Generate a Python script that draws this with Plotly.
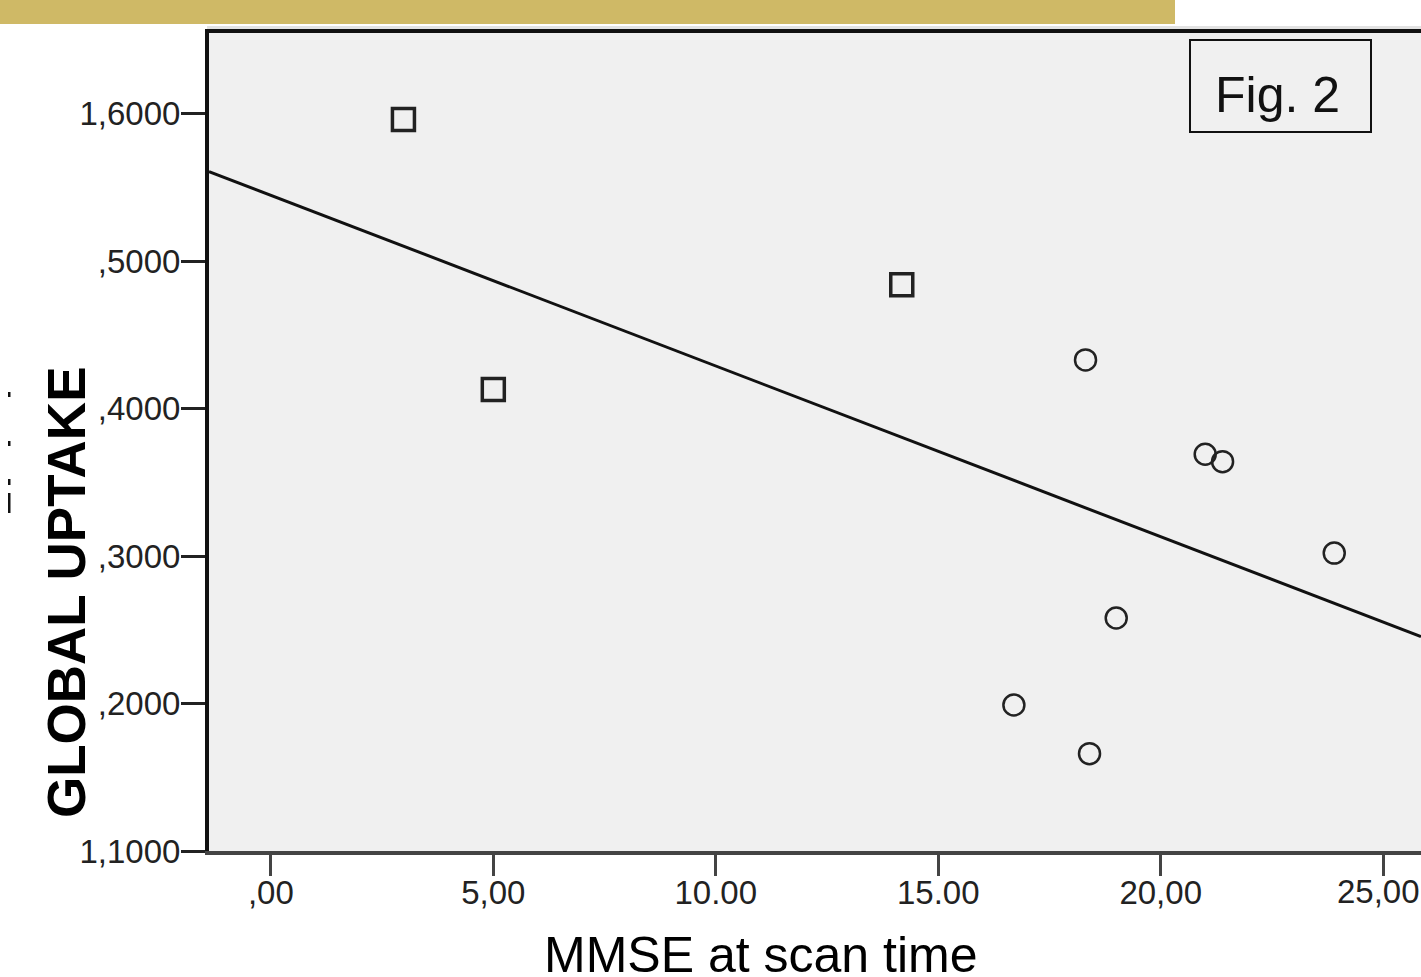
import numpy as np
import plotly.graph_objects as go

# Data
square_x = [2.98, 5.00, 14.18]
square_y = [1.596, 1.413, 1.484]
circle_x = [18.31, 21.00, 21.39, 23.90, 19.00, 16.70, 18.40]
circle_y = [1.433, 1.369, 1.364, 1.302, 1.258, 1.199, 1.166]

x_tickvals = [0, 5, 10, 15, 20, 25]
x_ticktext = [",00", "5,00", "10.00", "15.00", "20,00", "25,00"]
y_tickvals = [1.1, 1.2, 1.3, 1.4, 1.5, 1.6]
y_ticktext = ["1,1000", ",2000", ",3000", ",4000", ",5000", "1,6000"]

x_range = [-1.39, 25.85]
y_range = [1.1, 1.656]

# Linear fit on all points
all_x = np.array(square_x + circle_x)
all_y = np.array(square_y + circle_y)
slope, intercept = np.polyfit(all_x, all_y, 1)
fit_x = np.array(x_range)
fit_y = slope * fit_x + intercept

W, H = 1421, 977
L, R, T, B = 209, 0, 31, 126
pw, ph = W - L - R, H - T - B

def px(xpix):
    return (xpix - L) / pw

def py(ypix):
    return (H - B - ypix) / ph

fig = go.Figure()
fig.add_trace(go.Scatter(x=fit_x, y=fit_y, mode="lines",
                         line=dict(color="#111111", width=3), showlegend=False, hoverinfo="skip"))
fig.add_trace(go.Scatter(x=square_x, y=square_y, mode="markers",
                         marker=dict(symbol="square-open", size=22, color="#222222",
                                     line=dict(width=3.5, color="#222222")), showlegend=False))
fig.add_trace(go.Scatter(x=circle_x, y=circle_y, mode="markers",
                         marker=dict(symbol="circle-open", size=21, color="#222222",
                                     line=dict(width=2.5, color="#222222")), showlegend=False))

tickfont = dict(family="Liberation Sans, Arial", size=33, color="#222222")

# last x tick label sits at the right edge: drawn as a right-anchored annotation
axis_ticktext = x_ticktext[:-1] + [""]

# small clipped remnants at the far left edge (decorative)
left_marks = [(392, 397), (441, 446), (479, 485), (493, 513)]
mark_shapes = [dict(type="rect", xref="paper", yref="paper", x0=px(8), x1=px(10.5),
                    y0=py(b), y1=py(a), fillcolor="#111111", line=dict(width=0))
               for a, b in left_marks]

fig.update_layout(
    width=W, height=H,
    margin=dict(l=L, r=R, t=T, b=B, pad=0),
    paper_bgcolor="white",
    plot_bgcolor="#f0f0f0",
    xaxis=dict(range=x_range, tickvals=x_tickvals, ticktext=axis_ticktext,
               ticks="outside", ticklen=21, tickwidth=3, tickcolor="#444444",
               showline=True, linecolor="#444444", linewidth=4,
               showgrid=False, zeroline=False, tickfont=tickfont,
               ticklabelstandoff=-12),
    yaxis=dict(range=y_range, tickvals=y_tickvals, ticktext=y_ticktext,
               ticks="outside", ticklen=24, tickwidth=3, tickcolor="#222222",
               showline=True, linecolor="#111111", linewidth=4,
               showgrid=False, zeroline=False, tickfont=tickfont,
               ticklabelstandoff=-6),
    shapes=[
        # gold banner
        dict(type="rect", xref="paper", yref="paper", x0=px(0), x1=px(1175), y0=py(24), y1=py(0),
             fillcolor="#CFB966", line=dict(width=0), layer="above"),
        # light grey strip above frame
        dict(type="rect", xref="paper", yref="paper", x0=px(207), x1=px(1421), y0=py(30), y1=py(26),
             fillcolor="#e2e2e2", line=dict(width=0), layer="above"),
        # top frame line
        dict(type="line", xref="paper", yref="paper", x0=px(205), x1=1, y0=1, y1=1,
             line=dict(color="#111111", width=4), layer="above"),
        # Fig. 2 box
        dict(type="rect", xref="paper", yref="paper", x0=px(1190), x1=px(1371), y0=py(132), y1=py(40),
             fillcolor="#f0f0f0", line=dict(color="#111111", width=2), layer="above"),
    ] + mark_shapes,
    annotations=[
        dict(text=x_ticktext[-1], xref="paper", yref="paper", x=1, y=py(891),
             showarrow=False, font=tickfont, xanchor="right", yanchor="middle", borderpad=0),
        dict(text="Fig. 2", xref="paper", yref="paper", x=px(1277), y=py(95),
             showarrow=False, font=dict(family="Liberation Sans, Arial", size=50, color="#111111"),
             xanchor="center", yanchor="middle"),
        dict(text="<b>GLOBAL UPTAKE</b>", xref="paper", yref="paper", x=px(66), y=py(593),
             showarrow=False, textangle=-90,
             font=dict(family="Liberation Sans, Arial", size=53, color="#000000"),
             xanchor="center", yanchor="middle"),
        dict(text="MMSE at scan time", xref="paper", yref="paper", x=px(760), y=py(955),
             showarrow=False, font=dict(family="Liberation Sans, Arial", size=50, color="#000000"),
             xanchor="center", yanchor="middle"),
    ],
)

js = ("document.body.style.margin='0';document.body.style.overflow='hidden';")

fig.write_html("out.html", config={"displayModeBar": False}, post_script=js)
